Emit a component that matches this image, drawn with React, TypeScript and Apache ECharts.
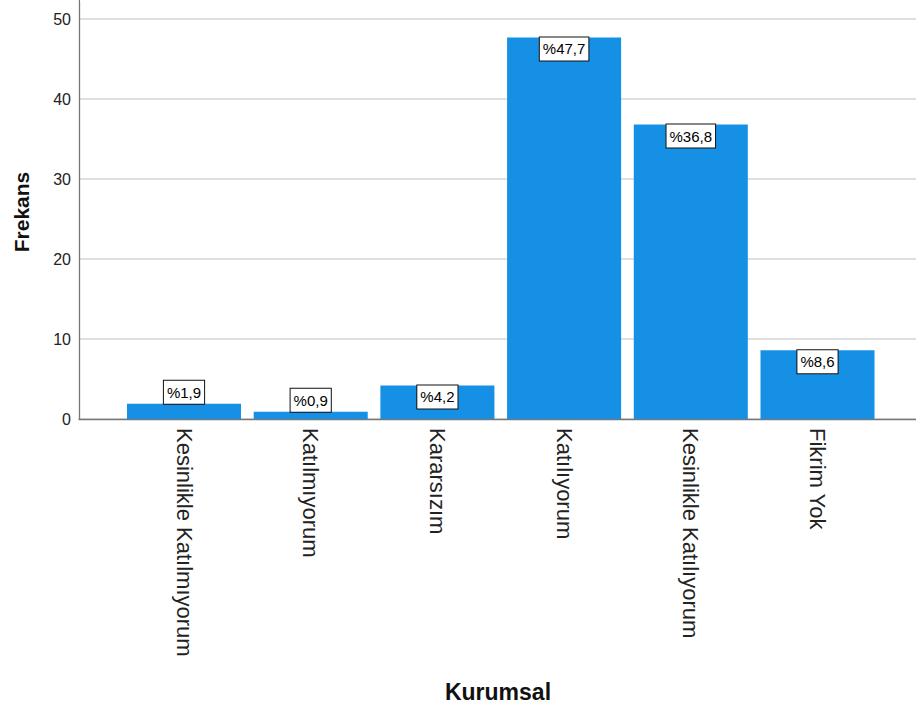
import React, { useEffect, useRef } from "react";
import * as echarts from "echarts";

const categories = [
  "Kesinlikle Katılmıyorum",
  "Katılmıyorum",
  "Kararsızım",
  "Katılıyorum",
  "Kesinlikle Katılıyorum",
  "Fikrim Yok",
];
const percentages = [1.9, 0.9, 4.2, 47.7, 36.8, 8.6];
const yTicks = [0, 10, 20, 30, 40, 50];
const yAxisTitle = "Frekans";
const xAxisTitle = "Kurumsal";

const Y_MAX = 52.375;
const PLOT_H = 419;
const BAR_COLOR = "#1690e5";
const FONT = "Arial, 'Liberation Sans', Helvetica, sans-serif";

export default function App() {
  const ref = useRef<HTMLDivElement>(null);

  useEffect(() => {
    if (!ref.current) return;
    const chart = echarts.init(ref.current, null, { renderer: "svg" });
    const pxPerUnit = PLOT_H / Y_MAX;

    const option = {
      animation: false,
      backgroundColor: "#ffffff",
      textStyle: { fontFamily: FONT },
      grid: [
        { left: 79, right: 0, top: 0, height: PLOT_H, containLabel: false },
        { left: 120.65, right: 35.15, top: 0, height: PLOT_H, containLabel: false },
      ],
      xAxis: [
        {
          type: "value",
          gridIndex: 0,
          min: 0,
          max: 1,
          axisLine: { show: true, onZero: false, lineStyle: { color: "#777777", width: 1.3 } },
          axisTick: { show: false },
          axisLabel: { show: false },
          splitLine: { show: false },
        },
        {
          type: "category",
          gridIndex: 1,
          data: categories,
          axisLine: { show: false },
          axisTick: { show: false },
          axisLabel: {
            rotate: -90,
            margin: 9,
            fontSize: 22,
            color: "#222222",
            fontFamily: FONT,
            interval: 0,
          },
        },
      ],
      yAxis: [
        {
          type: "value",
          gridIndex: 0,
          min: 0,
          max: Y_MAX,
          interval: 10,
          axisLine: { show: true, lineStyle: { color: "#777777", width: 1.3 } },
          axisTick: { show: false },
          axisLabel: {
            margin: 8,
            fontSize: 16,
            color: "#222222",
            fontFamily: FONT,
            formatter: (v: number) => (yTicks.includes(v) ? String(v) : ""),
          },
          splitLine: { show: true, lineStyle: { color: "#d4d4d4", width: 1.6 } },
        },
        {
          type: "value",
          gridIndex: 1,
          min: 0,
          max: Y_MAX,
          show: false,
          splitLine: { show: false },
        },
      ],
      series: [
        {
          type: "bar",
          xAxisIndex: 1,
          yAxisIndex: 1,
          barCategoryGap: "10%",
          itemStyle: { color: BAR_COLOR },
          data: percentages.map((v) => ({
            value: v,
            label: {
              show: true,
              position: v * pxPerUnit > 28 ? "insideTop" : "top",
              distance: 0,
            },
          })),
          label: {
            show: true,
            formatter: (p: any) => "%" + Number(p.value).toFixed(1).replace(".", ","),
            fontSize: 15,
            lineHeight: 17,
            color: "#000000",
            fontFamily: FONT,
            backgroundColor: "#ffffff",
            borderColor: "#111111",
            borderWidth: 1,
            padding: [3, 3, 3, 3],
          },
        },
      ],
      graphic: [
        {
          type: "rect",
          shape: { x: 80, y: 0, width: 836, height: 1.5 },
          style: { fill: "#ffffff" },
          z: 10,
        },
        {
          type: "text",
          x: 21,
          y: 212,
          rotation: Math.PI / 2,
          style: {
            text: yAxisTitle,
            fontSize: 21,
            fontWeight: "bold",
            fontFamily: FONT,
            fill: "#111111",
            textAlign: "center",
            textVerticalAlign: "middle",
          },
        },
        {
          type: "text",
          x: 498,
          y: 692,
          style: {
            text: xAxisTitle,
            fontSize: 23,
            fontWeight: "bold",
            fontFamily: FONT,
            fill: "#111111",
            textAlign: "center",
            textVerticalAlign: "middle",
          },
        },
      ],
    };

    chart.setOption(option as any);
    return () => chart.dispose();
  }, []);

  return (
    <div
      ref={ref}
      style={{ position: "absolute", left: 0, top: 0, width: 916, height: 713 }}
    />
  );
}
